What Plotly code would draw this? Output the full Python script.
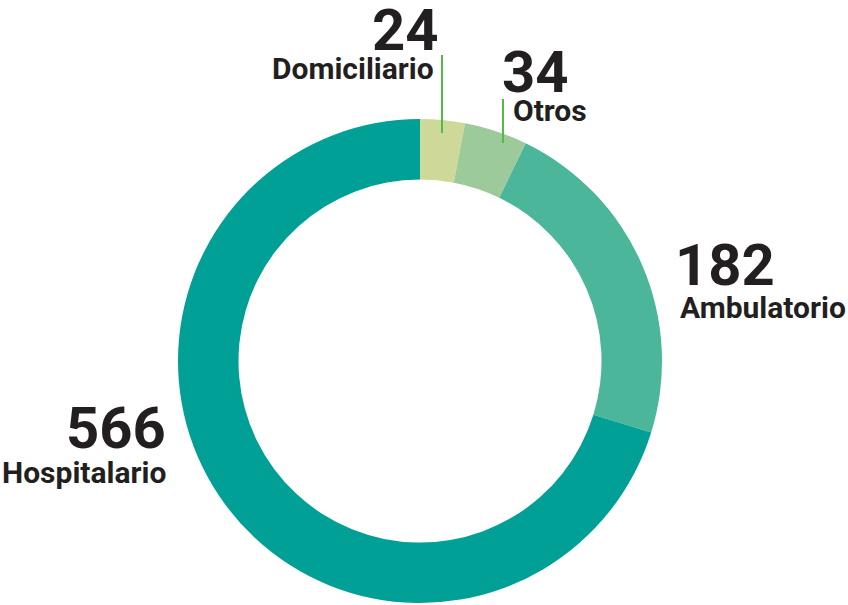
import plotly.graph_objects as go

W, H = 848, 605
labels = ["Domiciliario", "Otros", "Ambulatorio", "Hospitalario"]
values = [24, 34, 182, 566]
colors = ["#cdd899", "#9dca9a", "#4bb69a", "#00a096"]

def px(x):
    return x / W

def py(y):
    return 1 - y / H

cx, cy, r = 420, 361, 242

fig = go.Figure(go.Pie(
    labels=labels, values=values, sort=False, direction="clockwise", rotation=0,
    hole=0.75, marker=dict(colors=colors, line=dict(width=0)),
    textinfo="none", hoverinfo="label+value", showlegend=False,
    domain=dict(x=[px(cx - r), px(cx + r)], y=[py(cy + r), py(cy - r)]),
))

FONT = "Roboto, Liberation Sans, Arial, sans-serif"
TXT = "#231f20"
big, small = 58, 30

ann = [
    # (text, x, y, xanchor, size)
    (str(values[0]), 441, 30, "right", big),
    (labels[0], 436, 68, "right", small),
    (str(values[1]), 500, 72, "left", big),
    (labels[1], 511, 110, "left", small),
    (str(values[2]), 673, 265, "left", big),
    (labels[2], 678, 307, "left", small),
    (str(values[3]), 168, 428, "right", big),
    (labels[3], 168, 472, "right", small),
]
annotations = [dict(text=f"<b>{t}</b>", x=px(x), y=py(y), xref="paper", yref="paper",
                    xanchor=xa, yanchor="middle", showarrow=False,
                    font=dict(family=FONT, size=s, color=TXT))
               for t, x, y, xa, s in ann]

line_color = "#55b947"
shapes = [
    dict(type="line", xref="paper", yref="paper", x0=px(442), x1=px(442), y0=py(55), y1=py(133),
         line=dict(color=line_color, width=2)),
    dict(type="line", xref="paper", yref="paper", x0=px(503), x1=px(503), y0=py(99), y1=py(143),
         line=dict(color=line_color, width=2)),
]

fig.update_layout(width=W, height=H, margin=dict(l=0, r=0, t=0, b=0),
                  paper_bgcolor="white", plot_bgcolor="white",
                  annotations=annotations, shapes=shapes)
fig.write_html("out.html", config={"displayModeBar": False},
               post_script="document.body.style.margin='0';document.body.style.overflow='hidden';")
